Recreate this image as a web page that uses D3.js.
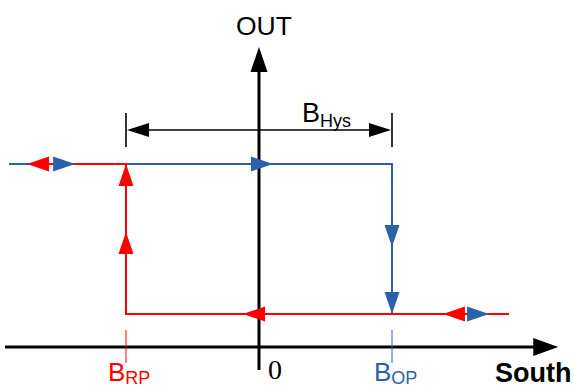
<!DOCTYPE html>
<html>
<head>
<meta charset="utf-8">
<script src="https://cdn.jsdelivr.net/npm/d3@7"></script>
<style>
  html, body { margin: 0; padding: 0; background: #fff; }
  svg { display: block; }
</style>
</head>
<body>
<div id="chart"></div>
<script>
// ---- data (field in units of B_OP, output level 0 = low, 1 = high) ----
const thresholdNames = ["B", "B"];
const thresholdSubs = ["RP", "OP"];
const thresholdValues = [-1, 1];
const zeroLabel = "0";
const outLevels = [0, 1];
const hysLevel = 1.227;
const xAxisExtent = [-1.91, 2.25];
const yAxisExtent = [-0.373, 1.78];
// blue: operate path (field increasing)
const bluePath = [[-1.88, 1], [1, 1], [1, 0], [1.73, 0]];
// red: release path (field decreasing)
const redPath = [[1.88, 0], [-1, 0], [-1, 1], [-1.6, 1]];
// arrow tips [x, y, direction]
const blueArrows = [[-1.383, 1, "right"], [0.105, 1, "right"], [1, 0.447, "down"], [1, 0, "down"], [1.73, 0, "right"]];
const redArrows = [[-1.744, 1, "left"], [-1, 1, "up"], [-1, 0.547, "up"], [-0.12, 0, "left"], [1.383, 0, "left"]];

const RED = "#ff0000";
const BLUE = "#2b60ab";
const W = 574, H = 387;

const svg = d3.select("#chart").append("svg").attr("width", W).attr("height", H);

const x = d3.scaleLinear().domain([-1, 1]).range([126, 392]);
const y = d3.scaleLinear().domain([0, 1]).range([314, 164]);

function head(tx, ty, dir, L, w) {
  const d = { right: [1, 0], left: [-1, 0], up: [0, -1], down: [0, 1] }[dir];
  const bx = tx - d[0] * L, by = ty - d[1] * L;
  const px = -d[1] * w, py = d[0] * w;
  return `M${tx},${ty}L${bx + px},${by + py}L${bx - px},${by - py}Z`;
}

// ---- axes ----
const axisY = y(-0.22); // horizontal axis baseline (data level)
const hx0 = x(xAxisExtent[0]), hx1 = x(xAxisExtent[1]);
svg.append("line").attr("x1", hx0).attr("x2", hx1 - 20).attr("y1", axisY).attr("y2", axisY)
  .attr("stroke", "#000").attr("stroke-width", 3);
svg.append("path").attr("d", head(hx1, axisY, "right", 25, 9)).attr("fill", "#000");

const vx = x(0), vy0 = y(yAxisExtent[0]), vy1 = y(yAxisExtent[1]);
svg.append("line").attr("x1", vx).attr("x2", vx).attr("y1", vy0).attr("y2", vy1 + 20)
  .attr("stroke", "#000").attr("stroke-width", 3);
svg.append("path").attr("d", head(vx, vy1, "up", 25, 8.5)).attr("fill", "#000");

// threshold ticks
const tickColors = [RED, BLUE];
thresholdValues.forEach((v, i) => {
  svg.append("line").attr("x1", x(v)).attr("x2", x(v)).attr("y1", axisY - 17).attr("y2", axisY + 16)
    .attr("stroke", tickColors[i]).attr("stroke-width", 1);
  const t = svg.append("text").attr("x", x(v) - 18).attr("y", 381)
    .attr("font-family", "'Liberation Sans', Arial, Helvetica, sans-serif").attr("fill", tickColors[i]);
  t.append("tspan").attr("font-size", 26).text(thresholdNames[i]);
  t.append("tspan").attr("font-size", 18).attr("dy", 3).text(thresholdSubs[i]);
});

svg.append("text").attr("x", x(0) + 9).attr("y", 379)
  .attr("font-family", "'Liberation Serif', 'Times New Roman', serif").attr("font-size", 28)
  .text(zeroLabel);

svg.append("text").attr("x", 236).attr("y", 35)
  .attr("font-family", "'Liberation Sans', Arial, Helvetica, sans-serif").attr("font-size", 26.5)
  .text("OUT");

svg.append("text").attr("x", 495).attr("y", 382)
  .attr("font-family", "'Liberation Sans', Arial, Helvetica, sans-serif").attr("font-size", 27)
  .attr("font-weight", "bold").text("South");

// ---- hysteresis dimension ----
const hy = y(hysLevel);
const hxa = x(thresholdValues[0]), hxb = x(thresholdValues[1]);
svg.append("line").attr("x1", hxa + 15).attr("x2", hxb - 15).attr("y1", hy).attr("y2", hy)
  .attr("stroke", "#000").attr("stroke-width", 1.6);
[hxa, hxb].forEach(px => {
  svg.append("line").attr("x1", px).attr("x2", px).attr("y1", hy - 17).attr("y2", hy + 17)
    .attr("stroke", "#000").attr("stroke-width", 1.6);
});
svg.append("path").attr("d", head(hxa + 1, hy, "left", 22, 7)).attr("fill", "#000");
svg.append("path").attr("d", head(hxb - 1, hy, "right", 22, 7)).attr("fill", "#000");
const ht = svg.append("text").attr("x", 302).attr("y", 122)
  .attr("font-family", "'Liberation Sans', Arial, Helvetica, sans-serif").attr("fill", "#000");
ht.append("tspan").attr("font-size", 27).text("B");
ht.append("tspan").attr("font-size", 18).attr("dy", 5).text("Hys");

// ---- hysteresis loop ----
const line = d3.line().x(d => x(d[0])).y(d => y(d[1]));
svg.append("path").attr("d", line(bluePath)).attr("fill", "none")
  .attr("stroke", BLUE).attr("stroke-width", 2);
svg.append("path").attr("d", line(redPath)).attr("fill", "none")
  .attr("stroke", RED).attr("stroke-width", 2);

svg.selectAll(".ra").data(redArrows).join("path").attr("class", "ra")
  .attr("d", d => head(x(d[0]), y(d[1]), d[2], 22, 7.5)).attr("fill", RED);
svg.selectAll(".ba").data(blueArrows).join("path").attr("class", "ba")
  .attr("d", d => head(x(d[0]), y(d[1]), d[2], 22, 7.5)).attr("fill", BLUE);
</script>
</body>
</html>
